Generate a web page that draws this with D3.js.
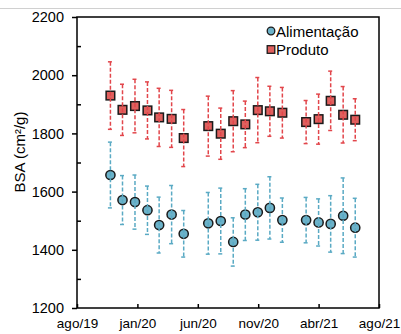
<!DOCTYPE html>
<html>
<head>
<meta charset="utf-8">
<script src="https://cdn.jsdelivr.net/npm/d3@7/dist/d3.min.js"></script>
<style>
  body { margin: 0; background: #fff; }
  svg { display: block; font-family: "Liberation Sans", Arial, sans-serif; }
</style>
</head>
<body>
<div id="vis"></div>
<script>
// monthly samples (first day of each month), two gaps: jun/20 and fev/21
const months = ["2019-11", "2019-12", "2020-01", "2020-02", "2020-03", "2020-04", "2020-05",
                "2020-07", "2020-08", "2020-09", "2020-10", "2020-11", "2020-12", "2021-01",
                "2021-03", "2021-04", "2021-05", "2021-06", "2021-07"];

const alimentacao    = [1657, 1571, 1564, 1536, 1485, 1521, 1455, 1491, 1499, 1427,
                        1521, 1529, 1544, 1502, 1502, 1494, 1489, 1517, 1476];
const alimentacaoErr = [113, 84, 93, 83, 96, 100, 80, 106, 113, 83,
                        89, 96, 107, 76, 78, 81, 97, 130, 101];

const produto    = [1930, 1881, 1894, 1879, 1855, 1850, 1784, 1825, 1799, 1842,
                    1831, 1880, 1876, 1871, 1839, 1849, 1912, 1864, 1847];
const produtoErr = [116, 88, 92, 98, 100, 98, 98, 103, 88, 105,
                    80, 112, 86, 87, 74, 86, 102, 97, 72];

const yTicks = [1200, 1400, 1600, 1800, 2000, 2200];
const yMinor = [1300, 1500, 1700, 1900, 2100];
const mesesPt = ["jan", "fev", "mar", "abr", "mai", "jun", "jul", "ago", "set", "out", "nov", "dez"];

const width = 401, height = 334;
const margin = { top: 17, right: 22, bottom: 26, left: 77 };

const parseMonth = d3.timeParse("%Y-%m");
const xStart = new Date(2019, 7, 10);
const xEnd = d3.timeDay.offset(xStart, 750);
const xTickValues = d3.range(6).map(i => d3.timeDay.offset(xStart, i * 150));
const fmtX = d => mesesPt[d.getMonth()] + "/" + String(d.getFullYear()).slice(2);

const x = d3.scaleTime()
  .domain([xStart, xEnd])
  .range([margin.left, width - margin.right]);

const y = d3.scaleLinear()
  .domain([1200, 2200])
  .range([height - margin.bottom, margin.top]);

const svg = d3.select("#vis").append("svg")
  .attr("width", width)
  .attr("height", height);

// faint frame line across the top
svg.append("line")
  .attr("x1", 0).attr("x2", width)
  .attr("y1", 8.5).attr("y2", 8.5)
  .attr("stroke", "#d0d0d0");

// plot box
svg.append("rect")
  .attr("x", margin.left).attr("y", margin.top)
  .attr("width", width - margin.left - margin.right)
  .attr("height", height - margin.top - margin.bottom)
  .attr("fill", "none")
  .attr("stroke", "#000")
  .attr("stroke-width", 1.5);

// y axis: labelled ticks outward, minor ticks inward
const yAxis = svg.append("g")
  .attr("transform", `translate(${margin.left},0)`)
  .call(d3.axisLeft(y).tickValues(yTicks).tickSize(5).tickPadding(8).tickFormat(d3.format("d")));
yAxis.select(".domain").remove();
yAxis.selectAll(".tick line").attr("stroke-width", 1.5);
yAxis.selectAll("text").style("font-size", "14.5px").attr("fill", "#000");

svg.append("g")
  .attr("transform", `translate(${margin.left},0)`)
  .call(d3.axisRight(y).tickValues(yMinor).tickSize(4).tickFormat(""))
  .call(g => g.select(".domain").remove())
  .selectAll(".tick line").attr("stroke-width", 1.5);

// x axis: ticks inward
const xAxis = svg.append("g")
  .attr("transform", `translate(0,${height - margin.bottom})`)
  .call(d3.axisBottom(x).tickValues(xTickValues).tickSize(-4).tickPadding(10).tickFormat(fmtX));
xAxis.select(".domain").remove();
xAxis.selectAll(".tick line").attr("stroke-width", 1.5);
xAxis.selectAll("text").style("font-size", "13.5px").attr("fill", "#000");

// y label
svg.append("text")
  .attr("transform", "translate(25,152) rotate(-90)")
  .attr("text-anchor", "middle")
  .style("font-size", "15px")
  .text("BSA (cm²/g)");

const series = [
  { name: "Alimentação", values: alimentacao, errs: alimentacaoErr, fill: "#6cb2c9", bar: "#5aaac4", shape: "circle" },
  { name: "Produto", values: produto, errs: produtoErr, fill: "#e0605e", bar: "#e2464b", shape: "square" }
];

series.forEach(s => {
  const pts = months.map((m, i) => ({ date: parseMonth(m), v: s.values[i], e: s.errs[i] }));
  const g = svg.append("g");

  // markers
  if (s.shape === "circle") {
    g.selectAll("circle").data(pts).join("circle")
      .attr("cx", d => x(d.date))
      .attr("cy", d => y(d.v))
      .attr("r", 4.6)
      .attr("fill", s.fill)
      .attr("stroke", "#1a1a1a")
      .attr("stroke-width", 1.5);
  } else {
    g.selectAll("rect").data(pts).join("rect")
      .attr("x", d => x(d.date) - 4.3)
      .attr("y", d => y(d.v) - 4.3)
      .attr("width", 8.6)
      .attr("height", 8.6)
      .attr("fill", s.fill)
      .attr("stroke", "#1a1a1a")
      .attr("stroke-width", 1.5);
  }

  // dashed error bars drawn over the markers
  const eb = g.selectAll(".eb").data(pts).join("g").attr("class", "eb")
    .attr("stroke", s.bar)
    .attr("stroke-width", 1.5)
    .attr("stroke-dasharray", "4,2")
    .attr("fill", "none");
  eb.append("line")
    .attr("x1", d => x(d.date)).attr("x2", d => x(d.date))
    .attr("y1", d => y(d.v + d.e)).attr("y2", d => y(d.v - d.e));
  eb.append("line")
    .attr("x1", d => x(d.date) - 2.5).attr("x2", d => x(d.date) + 3.5)
    .attr("y1", d => y(d.v + d.e)).attr("y2", d => y(d.v + d.e));
  eb.append("line")
    .attr("x1", d => x(d.date) - 2.5).attr("x2", d => x(d.date) + 3.5)
    .attr("y1", d => y(d.v - d.e)).attr("y2", d => y(d.v - d.e));
});

// legend
const legend = svg.append("g").attr("transform", "translate(271,31)");
series.forEach((s, i) => {
  const row = legend.append("g").attr("transform", `translate(0,${i * 18.5})`);
  if (s.shape === "circle") {
    row.append("circle").attr("r", 3.8).attr("fill", s.fill)
      .attr("stroke", "#1a1a1a").attr("stroke-width", 1.3);
  } else {
    row.append("rect").attr("x", -3.8).attr("y", -3.8).attr("width", 7.6).attr("height", 7.6)
      .attr("fill", s.fill).attr("stroke", "#1a1a1a").attr("stroke-width", 1.3);
  }
  row.append("text")
    .attr("x", 5).attr("y", 5.5)
    .style("font-size", "15px")
    .text(s.name);
});
</script>
</body>
</html>
